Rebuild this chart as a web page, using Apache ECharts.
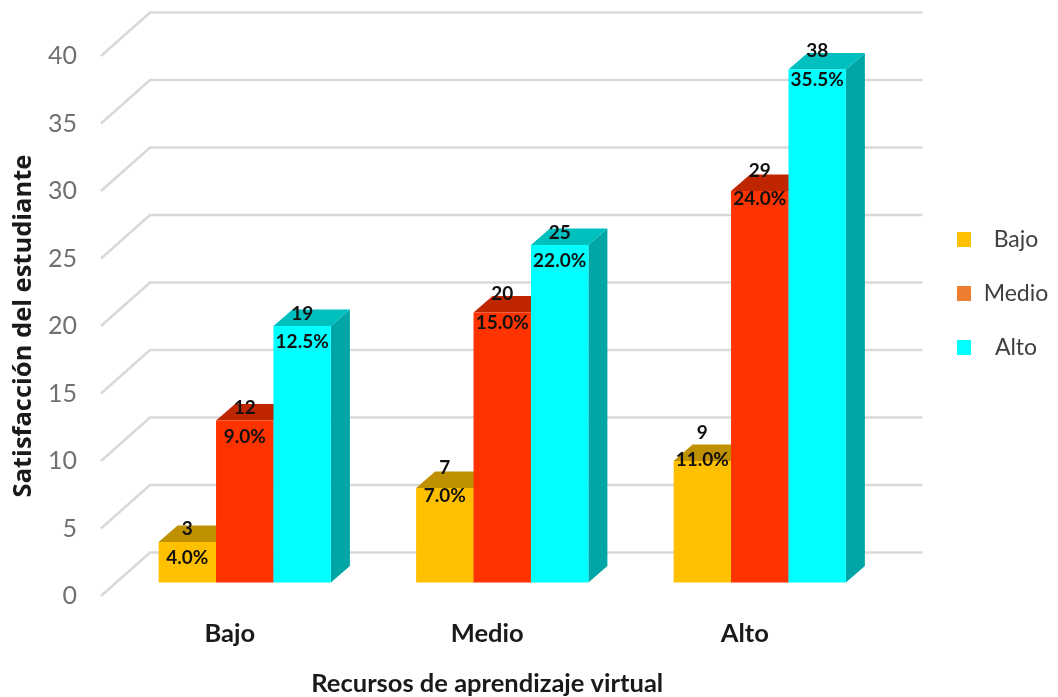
<!DOCTYPE html>
<html>
<head>
<meta charset="utf-8">
<style>html,body{margin:0;padding:0;background:#fff}#c{width:1058px;height:697px}</style>
<script src="https://cdn.jsdelivr.net/npm/echarts@6/dist/echarts.min.js"></script>
</head>
<body>
<div id="c"></div>
<script>
var categories = ['Bajo', 'Medio', 'Alto'];
var seriesNames = ['Bajo', 'Medio', 'Alto'];
var bajoCounts = [3, 7, 9];
var medioCounts = [12, 20, 29];
var altoCounts = [19, 25, 38];
var bajoPercents = [4.0, 7.0, 11.0];
var medioPercents = [9.0, 15.0, 24.0];
var altoPercents = [12.5, 22.0, 35.5];
var gridTicks = [0, 5, 10, 15, 20, 25, 30, 35, 40];

var countNudges = [[-13.5, -20, -28], [-13, -19, -20], [-12, -12, -19]];
var percentNudges = [[15.5, 8, -1], [16, 10, 8], [16, 16, 10]];
var faceColors = [
  {front: '#FFC000', top: '#BF9000', side: '#A68000'},
  {front: '#FF3300', top: '#BF2600', side: '#A62100'},
  {front: '#00FFFF', top: '#00BFBF', side: '#00A5A5'}
];
var legendColors = ['#FFC000', '#ED7D31', '#00FFFF'];

var barShift = [15, -13.5], depth = [19, -16.5], wall = [49, -43.5];

function barSeries(idx, counts, percents) {
  return {
    name: seriesNames[idx],
    type: 'custom',
    z: 3,
    encode: {x: 0, y: 1},
    data: counts.map(function (v, i) { return [i, v, percents[i]]; }),
    renderItem: function (params, api) {
      var cat = api.value(0), val = api.value(1), pct = api.value(2);
      var band = api.size([1, 0])[0];
      var w = band * 0.223;
      var top = api.coord([cat, val]);
      var base = api.coord([cat, 0]);
      var x0 = top[0] + barShift[0] - 1.5 * w + idx * w;
      var x1 = x0 + w;
      var y0 = base[1] + barShift[1];
      var y1 = top[1] + barShift[1];
      var c = faceColors[idx];
      var di = params.dataIndex;
      function poly(pts, fill) {
        return {type: 'polygon', shape: {points: pts}, style: {fill: fill, stroke: null}};
      }
      function label(text, y) {
        return {
          type: 'text', z2: 100,
          style: {
            text: text, x: (x0 + x1) / 2, y: y, align: 'center', verticalAlign: 'middle',
            font: 'bold 19px Lato', fill: '#111111'
          }
        };
      }
      return {
        type: 'group',
        children: [
          poly([[x1, y0], [x1 + depth[0], y0 + depth[1]], [x1 + depth[0], y1 + depth[1]], [x1, y1]], c.side),
          poly([[x0, y1], [x1, y1], [x1 + depth[0], y1 + depth[1]], [x0 + depth[0], y1 + depth[1]]], c.top),
          poly([[x0, y0], [x1, y0], [x1, y1], [x0, y1]], c.front),
          label(String(val), y1 + countNudges[idx][di]),
          label(pct.toFixed(1) + '%', y1 + percentNudges[idx][di])
        ]
      };
    }
  };
}

var option = {
  animation: false,
  backgroundColor: '#ffffff',
  grid: {left: 101, top: 56, width: 772.5, height: 540, outerBoundsMode: 'none'},
  legend: {
    orient: 'vertical', left: 952, top: 223, itemWidth: 14, itemHeight: 15, itemGap: 31,
    selectedMode: false,
    data: seriesNames.map(function (n, i) {
      return {name: n, icon: 'rect', itemStyle: {color: legendColors[i]}};
    }),
    formatter: function (n) { return '{a|' + n + '}'; },
    textStyle: {
      rich: {a: {width: 80, align: 'center', fontFamily: 'Lato', fontSize: 23, lineHeight: 24, color: '#404040'}}
    }
  },
  xAxis: {
    type: 'category', data: categories,
    axisLine: {show: false}, axisTick: {show: false}, splitLine: {show: false},
    axisLabel: {margin: 25, fontFamily: 'Lato', fontWeight: 'bold', fontSize: 25.5, color: '#1a1a1a'},
    name: 'Recursos de aprendizaje virtual', nameLocation: 'middle', nameGap: 75,
    nameTextStyle: {fontFamily: 'Lato', fontWeight: 'bold', fontSize: 25.5, color: '#1a1a1a'}
  },
  yAxis: {
    type: 'value', min: 0, max: 40, interval: 5,
    axisLine: {show: false}, axisTick: {show: false}, splitLine: {show: false},
    axisLabel: {margin: 24, fontFamily: 'Lato', fontSize: 25, color: '#707070', padding: [0, 0, 4, 0]},
    name: 'Satisfacción del estudiante', nameLocation: 'middle', nameGap: 64,
    nameTextStyle: {fontFamily: 'Open Sans', fontWeight: 'bold', fontSize: 25.5, color: '#1a1a1a'}
  },
  series: [
    {
      type: 'custom', name: 'gridlines', z: 1, silent: true,
      encode: {y: 0},
      data: gridTicks.map(function (t) { return [t]; }),
      renderItem: function (params, api) {
        var y = api.coord([0, api.value(0)])[1];
        var cs = params.coordSys;
        var lineStyle = {stroke: '#D9D9D9', lineWidth: 2.5, fill: null};
        return {
          type: 'polyline',
          shape: {points: [[cs.x, y], [cs.x + wall[0], y + wall[1]], [cs.x + cs.width + wall[0], y + wall[1]]]},
          style: lineStyle
        };
      }
    },
    barSeries(0, bajoCounts, bajoPercents),
    barSeries(1, medioCounts, medioPercents),
    barSeries(2, altoCounts, altoPercents)
  ]
};
var chart = echarts.init(document.getElementById('c'));
chart.setOption(option);
</script>
</body>
</html>
